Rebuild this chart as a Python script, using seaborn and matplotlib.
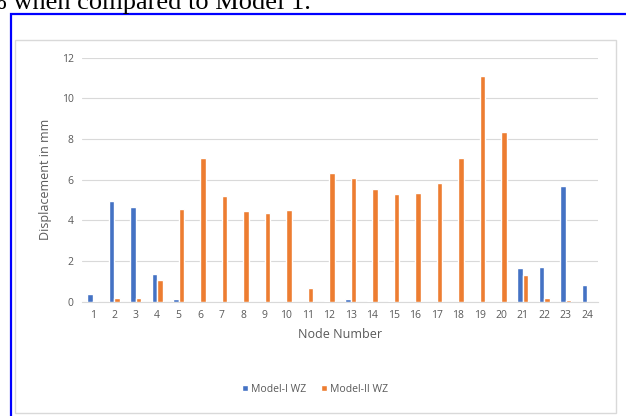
import numpy as np
import pandas as pd
import matplotlib
matplotlib.use("Agg")
import matplotlib.pyplot as plt
from matplotlib.patches import Rectangle
import seaborn as sns

# values
nodes = [str(i) for i in range(1, 25)]
model_1 = [0.40, 4.95, 4.65, 1.35, 0.15, 0, 0, 0, 0, 0, 0, 0.05,
           0.15, 0.05, 0.05, 0, 0, 0, 0, 0, 1.65, 1.72, 5.70, 0.82]
model_2 = [0.05, 0.20, 0.20, 1.07, 4.57, 7.05, 5.18, 4.48, 4.36, 4.53, 0.67, 6.35,
           6.07, 5.53, 5.28, 5.36, 5.82, 7.05, 11.10, 8.33, 1.31, 0.16, 0.08, 0]
series_names = ["Model-I WZ", "Model-II WZ"]
colors = ["#4472C4", "#ED7D31"]

df = pd.DataFrame({
    "Node": nodes * 2,
    "Displacement": model_1 + model_2,
    "Model": [series_names[0]] * 24 + [series_names[1]] * 24,
})

sns.set_style("white")
plt.rcParams["font.family"] = ["Open Sans", "DejaVu Sans"]
grey = "#595959"

W, H = 626, 416
fig = plt.figure(figsize=(W / 100, H / 100), dpi=100)

# page text cut at the top and the blue frame
fig.text(-0.024, 1 - 9.5 / H, "% when compared to Model 1.", family="Liberation Serif",
         fontsize=19, va="baseline", ha="left", color="black")
fig.patches.append(Rectangle((11 / W, -0.05), 1.1, 1 - 13.5 / H + 0.05,
                             transform=fig.transFigure, fill=False,
                             edgecolor="#0000FF", linewidth=1.6, zorder=-2))
fig.patches.append(Rectangle((15 / W, 1 - 413 / H), (616 - 15) / W, (413 - 40) / H,
                             transform=fig.transFigure, facecolor="white",
                             edgecolor="#D9D9D9", linewidth=1.0, zorder=-1))

ax = fig.add_axes([82 / W, 1 - 301.7 / H, (598 - 82) / W, (301.7 - 57.7) / H])
ax.set_zorder(2)
ax.set_facecolor("none")
sns.barplot(data=df, x="Node", y="Displacement", hue="Model", order=nodes,
            palette=colors, width=0.5, saturation=1, ax=ax, zorder=3)

ax.set_ylim(0, 12)
ax.set_yticks(np.arange(0, 13, 2))
ax.set_xlim(-0.5, 23.5)
ax.set_axisbelow(True)
ax.grid(axis="y", color="#D9D9D9", linewidth=0.8)
for s in ["top", "right", "left"]:
    ax.spines[s].set_visible(False)
ax.spines["bottom"].set_color("#D9D9D9")
ax.tick_params(axis="both", length=0, labelsize=7.5, colors=grey, pad=6)
ax.set_xlabel("Node Number", fontsize=9, color=grey, labelpad=5)
ax.set_ylabel("Displacement in mm", fontsize=9, color=grey, labelpad=7)

ax.legend(loc="center", bbox_to_anchor=(315 / W, 1 - 389 / H),
          bbox_transform=fig.transFigure, ncol=2, frameon=False, fontsize=7.5,
          handlelength=0.6, handleheight=0.6, handletextpad=0.3, columnspacing=1.4,
          labelcolor=grey)

fig.savefig("out.png", dpi=100)
